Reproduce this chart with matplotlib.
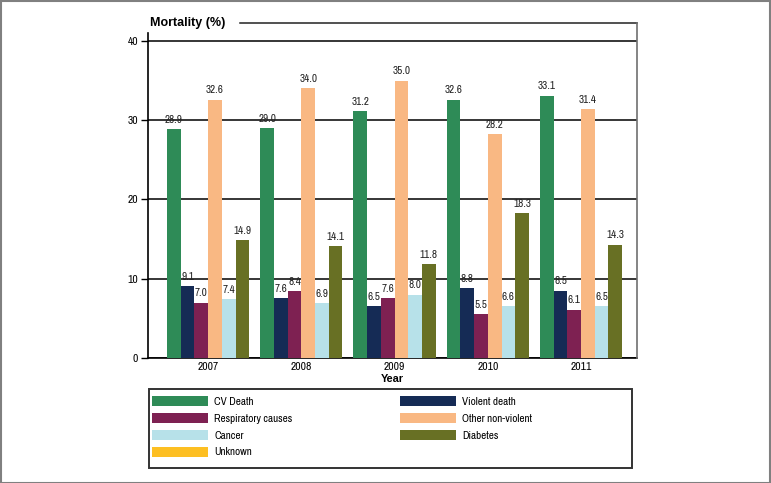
import matplotlib
matplotlib.use("Agg")
import matplotlib.pyplot as plt
import numpy as np
from matplotlib.patches import Patch, Rectangle
from matplotlib.lines import Line2D

plt.rcParams["font.family"] = ["Liberation Sans Narrow", "Arial Narrow",
                               "Archivo Narrow", "Liberation Sans", "DejaVu Sans"]
BOLD_FAMILY = ["Liberation Sans", "DejaVu Sans"]

# ── datos ─────────────────────────────────────────────────────────────────────
years = ["2007", "2008", "2009", "2010", "2011"]
cv_death = [28.9, 29.0, 31.2, 32.6, 33.1]
violent = [9.1, 7.6, 6.5, 8.8, 8.5]
respiratory = [7.0, 8.4, 7.6, 5.5, 6.1]
other_nonviolent = [32.6, 34.0, 35.0, 28.2, 31.4]
cancer = [7.4, 6.9, 8.0, 6.6, 6.5]
diabetes = [14.9, 14.1, 11.8, 18.3, 14.3]

series = [
    ("CV Death", cv_death, "#2e8b57"),
    ("Violent death", violent, "#152b55"),
    ("Respiratory causes", respiratory, "#7e2152"),
    ("Other non-violent", other_nonviolent, "#f9b883"),
    ("Cancer", cancer, "#b7e1e9"),
    ("Diabetes", diabetes, "#687024"),
]
unknown_color = "#fdbf22"

W, H = 771, 483
fig = plt.figure(figsize=(W / 100, H / 100), dpi=100)


def fx(px):
    return px / W


def fy(py):
    return 1 - py / H


ax = fig.add_axes([fx(148), fy(358), fx(637) - fx(148), fy(33) - fy(358)])

x = np.arange(len(years))
ancho = 0.147
n = len(series)
for i, (nombre, vals, color) in enumerate(series):
    offset = (i - n / 2 + 0.5) * ancho
    bars = ax.bar(x + offset, vals, ancho, color=color, zorder=3)
    ax.bar_label(bars, fmt="%.1f", padding=3, fontsize=8, color="#222222")

ax.set_xlim(-0.645, 4.6)
ax.set_ylim(0, 41)
ax.set_yticks([0, 10, 20, 30, 40])
ax.set_xticks(x)
ax.set_xticklabels(years)
ax.tick_params(axis="x", length=0, labelsize=8.3, pad=3)
ax.tick_params(axis="y", length=5, width=1, labelsize=8.3, pad=2)
ax.set_xlabel("Year", fontweight="bold", fontsize=7.8, labelpad=1,
              family=BOLD_FAMILY)
ax.grid(axis="y", color="black", linewidth=1.1, zorder=0)
ax.spines["top"].set_visible(False)
ax.spines["right"].set_visible(False)
for s in ("left", "bottom"):
    ax.spines[s].set_linewidth(1.2)

# título y líneas decorativas
fig.text(fx(150), fy(23), "Mortality (%)", fontweight="bold", fontsize=9,
         va="center", ha="left", family=BOLD_FAMILY)
fig.add_artist(Line2D([fx(240), fx(637)], [fy(23), fy(23)], color="#222222", lw=1.1))
fig.add_artist(Line2D([fx(637), fx(637)], [fy(23), fy(358)], color="#707070", lw=1.2))

# leyenda en dos columnas
col1 = [(series[0][0], series[0][2]), (series[2][0], series[2][2]),
        (series[4][0], series[4][2]), ("Unknown", unknown_color)]
col2 = [(series[1][0], series[1][2]), (series[3][0], series[3][2]),
        (series[5][0], series[5][2])]
for items, x0 in ((col1, 152), (col2, 400)):
    handles = [Patch(facecolor=c, edgecolor="none") for _, c in items]
    fig.legend(handles, [t for t, _ in items], loc="upper left",
               bbox_to_anchor=(fx(x0), fy(396)), frameon=False, fontsize=8,
               handlelength=5.0, handleheight=1.0, handletextpad=0.6,
               labelspacing=0.55, borderpad=0, borderaxespad=0)

fig.add_artist(Rectangle((fx(149), fy(468)), fx(632) - fx(149), fy(389) - fy(468),
                         fill=False, edgecolor="#333333", lw=1.4))
fig.add_artist(Rectangle((0.001, 0.001), 0.998, 0.997, fill=False,
                         edgecolor="#808080", lw=1.5))

plt.savefig("out.png", dpi=100)
plt.close()
